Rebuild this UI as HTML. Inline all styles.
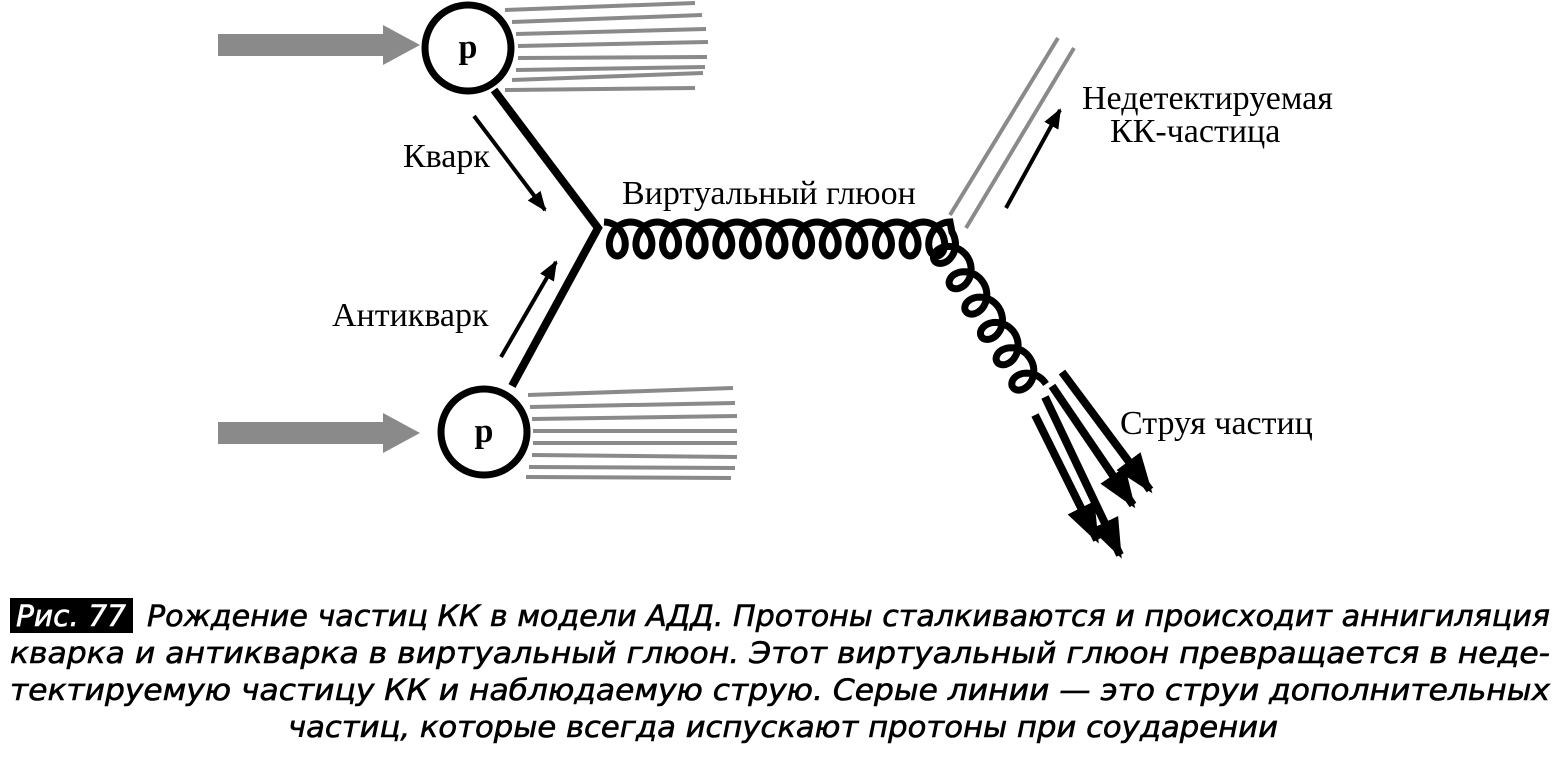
<!DOCTYPE html>
<html><head><meta charset="utf-8"><style>
html,body{margin:0;padding:0;background:#fff;}
svg{display:block;}
.s{font-family:"Liberation Serif",serif;font-size:34px;fill:#000;}
.c{font-family:"DejaVu Sans","Liberation Sans",sans-serif;font-style:italic;font-size:29px;fill:#000;stroke:#000;stroke-width:0.6px;}
</style></head><body>
<svg id="g" width="1560" height="759" viewBox="0 0 1560 759" xmlns="http://www.w3.org/2000/svg">
<defs>
<marker id="ah" markerWidth="20" markerHeight="16" refX="18" refY="8" orient="auto" markerUnits="userSpaceOnUse" viewBox="0 0 20 16">
<path d="M0,0 L20,8 L0,16 z" fill="#000"/></marker>
<marker id="bh" markerWidth="40" markerHeight="30" refX="36" refY="15" orient="auto" markerUnits="userSpaceOnUse" viewBox="0 0 40 30">
<path d="M0,0 L40,15 L0,30 z" fill="#000"/></marker>
</defs>
<g fill="#8a8a8a">
<rect x="218" y="34" width="172" height="22"/><path d="M383,25 L420,45 L383,65 z"/>
<rect x="218" y="422" width="172" height="22"/><path d="M383,413 L420,433 L383,453 z"/>
</g>
<g stroke="#8a8a8a" stroke-width="4">
<line x1="505" y1="10" x2="695" y2="3"/><line x1="512" y1="22" x2="702" y2="15"/>
<line x1="516" y1="34" x2="706" y2="29"/><line x1="518" y1="46" x2="708" y2="42"/>
<line x1="518" y1="58" x2="707" y2="57"/><line x1="516" y1="70" x2="705" y2="67"/>
<line x1="512" y1="80" x2="703" y2="73"/><line x1="505" y1="90" x2="695" y2="88"/>
<line x1="528" y1="395" x2="733" y2="388"/><line x1="530" y1="407" x2="735" y2="403"/>
<line x1="532" y1="419" x2="737" y2="416"/><line x1="533" y1="431" x2="737" y2="431"/>
<line x1="533" y1="443" x2="737" y2="443"/><line x1="532" y1="455" x2="737" y2="457"/>
<line x1="529" y1="467" x2="735" y2="468"/><line x1="526" y1="477" x2="731" y2="478"/>
<line x1="950" y1="215" x2="1058" y2="38"/><line x1="966" y1="228" x2="1074" y2="48"/>
</g>
<g fill="#fff" stroke="#000" stroke-width="7">
<circle cx="468" cy="48" r="43"/><circle cx="484" cy="432" r="43"/>
</g>
<text class="s" x="468" y="58" text-anchor="middle" font-weight="bold" font-size="30">p</text>
<text class="s" x="484" y="442" text-anchor="middle" font-weight="bold" font-size="30">p</text>
<polyline points="494,90 598,228 512,386" fill="none" stroke="#000" stroke-width="8" stroke-linejoin="miter"/>
<g stroke="#000" stroke-width="4" marker-end="url(#ah)">
<line x1="474" y1="116" x2="545" y2="210"/>
<line x1="501" y1="357" x2="556" y2="262"/>
<line x1="1006" y1="208" x2="1060" y2="110"/>
</g>
<path id="gl" fill="none" stroke="#000" stroke-width="7"/>
<g stroke="#000" stroke-width="8" marker-end="url(#bh)">
<line x1="1062" y1="372" x2="1150" y2="490"/>
<line x1="1052" y1="386" x2="1133" y2="505"/>
<line x1="1045" y1="397" x2="1120" y2="555"/>
<line x1="1035" y1="415" x2="1097" y2="540"/>
</g>
<text class="s" x="403" y="167">Кварк</text>
<text class="s" x="332" y="326">Антикварк</text>
<text class="s" x="622" y="204">Виртуальный глюон</text>
<text class="s" x="1082" y="109">Недетектируемая</text>
<text class="s" x="1110" y="142">КК-частица</text>
<text class="s" x="1120" y="434">Струя частиц</text>
<rect x="10" y="598" width="123" height="35" fill="#000"/>
<text class="c" x="16" y="626" style="fill:#fff;stroke:#fff" textLength="110" lengthAdjust="spacingAndGlyphs">Рис. 77</text>
<text class="c" x="147" y="626" textLength="1403" lengthAdjust="spacingAndGlyphs">Рождение частиц КК в модели АДД. Протоны сталкиваются и происходит аннигиляция</text>
<text class="c" x="10" y="663" textLength="1540" lengthAdjust="spacingAndGlyphs">кварка и антикварка в виртуальный глюон. Этот виртуальный глюон превращается в неде-</text>
<text class="c" x="10" y="700" textLength="1540" lengthAdjust="spacingAndGlyphs">тектируемую частицу КК и наблюдаемую струю. Серые линии — это струи дополнительных</text>
<text class="c" x="288" y="737" textLength="990" lengthAdjust="spacingAndGlyphs">частиц, которые всегда испускают протоны при соударении</text>
</svg>
<script>
(function(){
 function curl(x0,y0,x1,y1,N,Rx,Ry,sign){
  var dx=x1-x0,dy=y1-y0,L=Math.hypot(dx,dy),ux=dx/L,uy=dy/L,nx=-uy*sign,ny=ux*sign;
  var p=L/N,d="",steps=N*40;
  for(var i=0;i<=steps;i++){var t=i/40*2*Math.PI;
   var a=p*t/(2*Math.PI)+Rx*Math.sin(t), b=Ry*(1-Math.cos(t));
   var x=x0+ux*a+nx*b,y=y0+uy*a+ny*b;
   d+=(i?"L":"M")+x.toFixed(1)+","+y.toFixed(1);}
  return d;}
 var d=curl(604,222,950,222,13,14,17,1)+curl(952,232,1046,384,6,14,15,1).replace(/^M/,"L");
 document.getElementById("gl").setAttribute("d",d);
})();
</script>
</body></html>
